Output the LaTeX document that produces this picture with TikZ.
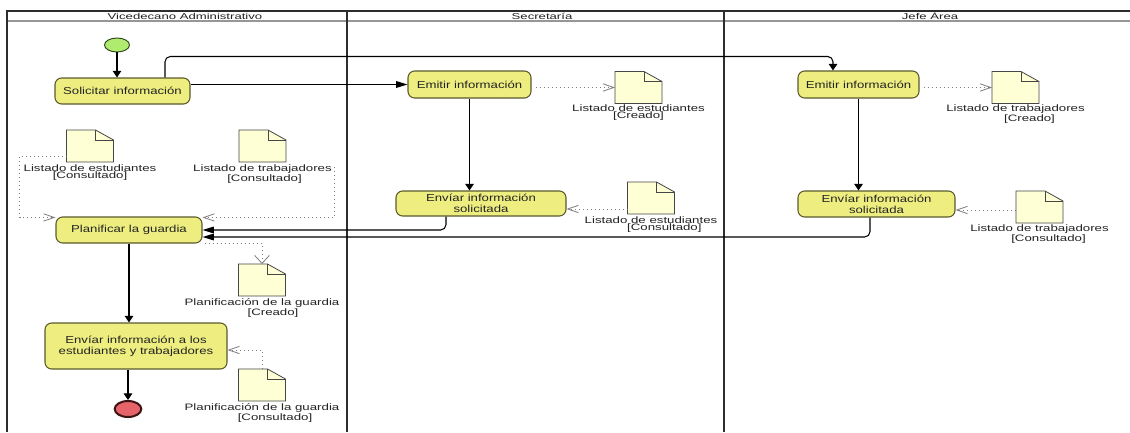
\documentclass[tikz,border=0pt]{standalone}
\usepackage{fontspec}
\setmainfont{Liberation Sans}
\newfontfamily\actfont{Liberation Sans}[FakeStretch=1.3]
\newfontfamily\objfont{Liberation Sans}[FakeStretch=1.42]
\newfontfamily\lanefont{Liberation Sans}[FakeStretch=1.54]
\usetikzlibrary{arrows.meta,calc,shapes.geometric}

\definecolor{actfill}{RGB}{238,238,128}
\definecolor{actline}{RGB}{90,90,45}
\definecolor{docfill}{RGB}{255,255,214}
\definecolor{docline}{RGB}{70,70,70}
\definecolor{frameline}{RGB}{45,45,45}
\definecolor{headline}{RGB}{150,150,150}
\definecolor{dotline}{RGB}{125,125,125}
\definecolor{inkcol}{RGB}{35,35,35}
\definecolor{startfill}{RGB}{175,235,110}
\definecolor{startline}{RGB}{45,70,25}
\definecolor{endfill}{RGB}{230,100,105}
\definecolor{endline}{RGB}{60,20,20}

\tikzset{
  activity/.style={draw=actline, fill=actfill, line width=0.8pt, rounded corners=5pt,
    inner sep=1pt, align=center, text=inkcol, font=\actfont\fontsize{7.6}{8.3}\selectfont},
  docbox/.style={minimum width=35.25pt, minimum height=24pt, inner sep=0pt, outer sep=0pt},
  docedge/.style={draw=docline, fill=docfill, line width=0.6pt, line join=miter},
  objlabel/.style={inner sep=0pt, align=center, text=inkcol, anchor=north,
    font=\objfont\fontsize{7}{5.6}\selectfont},
  lanetitle/.style={inner sep=0pt, text=inkcol, font=\lanefont\fontsize{6.4}{7}\selectfont},
  flow/.style={draw=black, line width=0.8pt},
  flowv/.style={flow, -{Triangle[length=5pt,width=6.5pt]}},
  flowh/.style={flow, -{Triangle[length=8.5pt,width=5pt]}},
  objflow/.style={draw=dotline, line width=0.6pt, dash pattern=on 0.7pt off 2.3pt},
  objh/.style={objflow, -{Straight Barb[length=8pt,width=5.5pt,line width=0.6pt]}},
  objv/.style={objflow, -{Straight Barb[length=6pt,width=11pt,line width=0.6pt]}},
  startnode/.style={ellipse, draw=startline, fill=startfill, line width=0.7pt,
    minimum width=18.75pt, minimum height=10.5pt, inner sep=0pt},
  endnode/.style={ellipse, draw=endline, fill=endfill, line width=1.5pt,
    minimum width=20pt, minimum height=12pt, inner sep=0pt}
}

% object node outline with a folded top-right corner
\newcommand\docfold[1]{%
  \filldraw[docedge] (#1.north west) -- ($(#1.north east)+(-18,0)$) -- ($(#1.north east)+(0,10)$)
    -- (#1.south east) -- (#1.south west) -- cycle;
  \draw[docedge, fill=none] ($(#1.north east)+(-18,0)$) -- ($(#1.north east)+(-18,10)$)
    -- ($(#1.north east)+(0,10)$);}

\begin{document}
\begin{tikzpicture}[x=0.75pt,y=-0.75pt]
\useasboundingbox[fill=white] (0,0) rectangle (1130,432);

% swimlane frame
\draw[headline, line width=1pt] (7,21) -- (1130,21);
\draw[frameline, line width=0.9pt] (7,432) -- (7,11) -- (1130,11);
\draw[frameline, line width=0.9pt] (347,11) -- (347,432);
\draw[frameline, line width=0.9pt] (724,11) -- (724,432);
\node[lanetitle] (lane1) at (185,16) {Vicedecano Administrativo};
\node[lanetitle] (lane2) at (542,16) {Secretaría};
\node[lanetitle] (lane3) at (930,16) {Jefe Área};

% initial and final nodes
\node[startnode] (start) at (117,45) {};
\node[endnode] (end) at (128,409) {};

% actions
\node[activity, minimum width=101.25pt, minimum height=19.5pt] (sol) at (122.5,91) {Solicitar información};
\node[activity, minimum width=92.25pt, minimum height=20.25pt] (emit1) at (469.5,84.5) {Emitir información};
\node[activity, minimum width=90.75pt, minimum height=20.25pt] (emit2) at (858.5,84.5) {Emitir información};
\node[activity, minimum width=127.5pt, minimum height=18.75pt] (env1) at (481,203.5) {Envíar información\\solicitada};
\node[activity, minimum width=117.75pt, minimum height=19.5pt] (env2) at (876.5,204) {Envíar información\\solicitada};
\node[activity, minimum width=109.5pt, minimum height=19.5pt] (plan) at (129,230) {Planificar la guardia};
\node[activity, minimum width=136.5pt, minimum height=34.5pt] (envall) at (136,346) {Envíar información a los\\estudiantes y trabajadores};

% object nodes
\node[docbox] (od1) at (638.5,87.5) {};
\node[docbox] (od2) at (1015.5,87.5) {};
\node[docbox] (od3) at (651,198) {};
\node[docbox] (od4) at (1039.5,207) {};
\node[docbox] (od5) at (90,146) {};
\node[docbox] (od6) at (262.5,146) {};
\node[docbox] (od7) at (262,280) {};
\node[docbox] (od8) at (262,385) {};
\foreach \d in {od1,od2,od3,od4,od5,od6,od7,od8} {\docfold{\d}}

\node[objlabel] (od1l) at ($(od1.south)+(0,1)$) {Listado de estudiantes\\\hspace*{0pt}[Creado]};
\node[objlabel] (od2l) at ($(od2.south)+(0,1)$) {Listado de trabajadores\\\hspace*{21pt}[Creado]};
\node[objlabel] (od3l) at ($(od3.south)+(0,2)$) {Listado de estudiantes\\\hspace*{20pt}[Consultado]};
\node[objlabel] (od4l) at ($(od4.south)+(0,1)$) {Listado de trabajadores\\\hspace*{13.5pt}[Consultado]};
\node[objlabel] (od5l) at ($(od5.south)+(0,2)$) {Listado de estudiantes\\{}[Consultado]};
\node[objlabel] (od6l) at ($(od6.south)+(0,2)$) {Listado de trabajadores\\\hspace*{3pt}[Consultado]};
\node[objlabel] (od7l) at ($(od7.south)+(0,2)$) {Planificación de la guardia\\\hspace*{16.5pt}[Creado]};
\node[objlabel] (od8l) at ($(od8.south)+(0,2)$) {Planificación de la guardia\\\hspace*{19.5pt}[Consultado]};

% control flows
\draw[flowv] (start.south) -- (start.south |- sol.north);
\draw[flowh] (sol.east |- emit1.west) -- (emit1.west);
\draw[flowv, rounded corners=4pt] ($(sol.north)+(42.5,0)$) |- ($(emit2.north)+(-25.5,-14)$) -- ($(emit2.north)+(-25.5,0)$);
\draw[flowv] (emit1.south) -- (emit1.south |- env1.north);
\draw[flowv] (emit2.south) -- (emit2.south |- env2.north);
\draw[flowh, rounded corners=4pt] ($(env1.south)+(-35,0)$) |- (plan.east);
\coordinate (p2) at ($(plan.east)+(0,7)$);
\draw[flowh, rounded corners=4pt] ($(env2.south)+(-6.5,0)$) |- (p2);
\draw[flowv] (plan.south) -- (plan.south |- envall.north);
\draw[flowv] (envall.south -| end) -- (end.north);

% object flows
\draw[objh] ($(emit1.east |- od1.west)+(4,0)$) -- (od1.west);
\draw[objh] ($(emit2.east |- od2.west)+(4,0)$) -- (od2.west);
\coordinate (q3) at ($(env1.east)+(0,5.5)$);
\draw[objh] (od3.west |- q3) -- (q3);
\coordinate (q4) at ($(env2.east)+(0,6)$);
\draw[objh] (od4.west |- q4) -- (q4);
\draw[objh] ($(od5.south west)+(0,-6)$) -- ++(-47,0) |- ($(plan.north west)+(0,1)$);
\draw[objh] ($(od6.south)+(72,5)$) |- ($(plan.north east)+(0,1)$);
\draw[objv] ($(plan.south east)+(2,0)$) -| (od7.north);
\draw[objh] (od8.north) |- ($(envall.east)+(0,4)$);
\end{tikzpicture}
\end{document}
